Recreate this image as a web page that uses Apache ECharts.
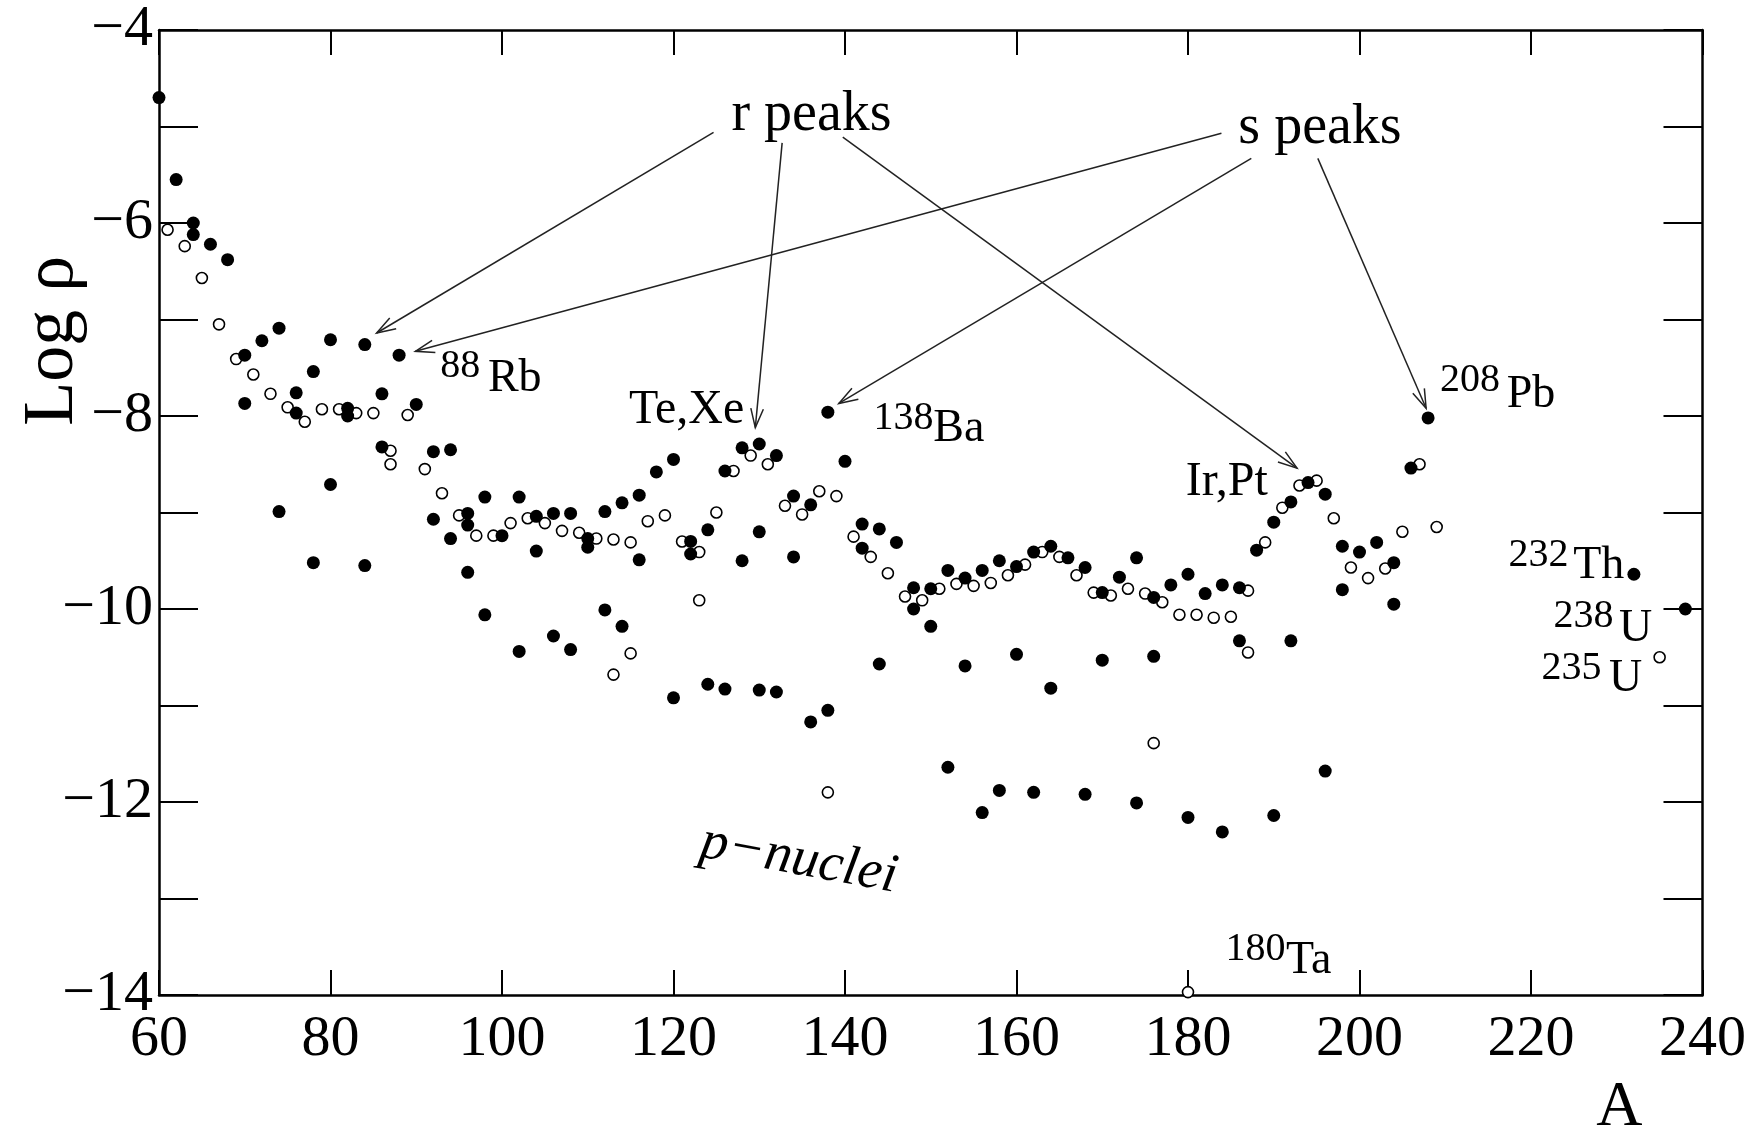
<!DOCTYPE html>
<html>
<head>
<meta charset="utf-8">
<script src="https://cdn.jsdelivr.net/npm/echarts@6/dist/echarts.min.js"></script>
<style>
html,body{margin:0;padding:0;background:#fff;}
#chart{width:1749px;height:1138px;}
</style>
</head>
<body>
<div id="chart"></div>
<script>
// ---- data: [A, log rho] ----
const filledPoints = [
 [60,-4.70],[62,-5.55],[64,-6.00],[64,-6.12],[66,-6.22],[68,-6.38],[70,-7.37],[70,-7.87],
 [72,-7.22],[74,-7.09],[74,-8.99],[76,-7.76],[76,-7.97],[78,-7.54],[78,-9.52],[80,-7.21],
 [80,-8.71],[82,-7.92],[82,-8.00],[84,-7.26],[84,-9.55],[86,-7.77],[86,-8.32],[88,-7.37],
 [90,-7.88],[92,-8.37],[92,-9.07],[94,-8.35],[94,-9.27],[96,-9.01],[96,-9.13],[96,-9.62],
 [98,-8.84],[98,-10.06],[100,-9.24],[102,-8.84],[102,-10.44],[104,-9.04],[104,-9.40],
 [106,-9.01],[106,-10.28],[108,-9.01],[108,-10.42],[110,-9.27],[110,-9.36],[112,-8.99],
 [112,-10.01],[114,-8.90],[114,-10.18],[116,-8.82],[116,-9.49],[118,-8.58],[120,-8.45],
 [120,-10.92],[122,-9.30],[122,-9.43],[124,-9.18],[124,-10.78],[126,-8.57],[126,-10.83],
 [128,-8.33],[128,-9.50],[130,-8.29],[130,-9.20],[130,-10.84],[132,-8.41],[132,-10.86],
 [134,-8.83],[134,-9.46],[136,-8.92],[136,-11.17],[138,-7.96],[138,-11.05],[140,-8.47],
 [142,-9.12],[142,-9.37],[144,-9.17],[144,-10.57],[146,-9.31],[148,-9.78],[148,-10.00],
 [150,-9.79],[150,-10.18],[152,-9.60],[152,-11.64],[154,-9.68],[154,-10.59],[156,-9.60],
 [156,-12.11],[158,-9.50],[158,-11.88],[160,-9.56],[160,-10.47],[162,-9.41],[162,-11.90],
 [164,-9.35],[164,-10.82],[166,-9.47],[168,-9.57],[168,-11.92],[170,-9.83],[170,-10.53],
 [172,-9.67],[174,-9.47],[174,-12.01],[176,-9.88],[176,-10.49],[178,-9.75],[180,-9.64],
 [180,-12.16],[182,-9.84],[184,-9.75],[184,-12.31],[186,-9.78],[186,-10.33],[188,-9.39],
 [190,-9.10],[190,-12.14],[192,-8.89],[192,-10.33],[194,-8.69],[196,-8.81],[196,-11.68],
 [198,-9.35],[198,-9.80],[200,-9.41],[202,-9.31],[204,-9.52],[204,-9.95],[206,-8.54],
 [208,-8.02],[232,-9.64],[238,-10.00]
];
const openPoints = [
 [61,-6.07],[63,-6.24],[65,-6.57],[67,-7.05],[69,-7.41],[71,-7.57],[73,-7.77],[75,-7.91],
 [77,-8.06],[79,-7.93],[81,-7.93],[83,-7.97],[85,-7.97],[87,-8.36],[87,-8.50],[89,-7.99],
 [91,-8.55],[93,-8.80],[95,-9.03],[97,-9.24],[99,-9.24],[101,-9.11],[103,-9.06],[105,-9.11],
 [107,-9.19],[109,-9.21],[111,-9.27],[113,-9.28],[113,-10.68],[115,-9.31],[115,-10.46],
 [117,-9.09],[119,-9.03],[121,-9.30],[123,-9.41],[123,-9.91],[125,-9.00],[127,-8.57],
 [129,-8.41],[131,-8.50],[133,-8.93],[135,-9.02],[137,-8.78],[138,-11.90],[139,-8.83],
 [141,-9.25],[143,-9.46],[145,-9.63],[147,-9.87],[149,-9.91],[151,-9.79],[153,-9.74],
 [155,-9.76],[157,-9.73],[159,-9.65],[161,-9.54],[163,-9.41],[165,-9.46],[167,-9.65],
 [169,-9.83],[171,-9.86],[173,-9.79],[175,-9.84],[176,-11.39],[177,-9.93],[179,-10.06],
 [180,-13.97],[181,-10.06],[183,-10.09],[185,-10.08],[187,-9.81],[187,-10.45],[189,-9.31],
 [191,-8.95],[193,-8.72],[195,-8.67],[197,-9.06],[199,-9.57],[201,-9.68],[203,-9.58],
 [205,-9.20],[207,-8.50],[209,-9.15],[235,-10.50]
];
const xTickValues = [60,80,100,120,140,160,180,200,220,240];
const yTickLabels = {'-4':'−4','-6':'−6','-8':'−8','-10':'−10','-12':'−12','-14':'−14'};
const xAxisTitle = 'A';
const yAxisTitle = 'Log ρ';

// annotation arrows: [startA, startL, tipA, tipL]
const arrowsR = [[124.67,-5.06,85.38,-7.14],[132.67,-5.17,129.54,-8.12],[139.74,-5.11,192.71,-8.54]];
const arrowsS = [[183.90,-5.07,89.90,-7.33],[187.38,-5.33,139.28,-7.87],[195.14,-5.33,207.77,-7.92]];
// labels: [text, A (left), log rho (baseline), kind]
const labels = [
 ['88',92.8,-7.61,'sup'],['Rb',98.36,-7.76,'el'],
 ['Te,Xe',114.82,-8.09,'big'],
 ['138',143.33,-8.15,'sup'],['Ba',150.29,-8.28,'el'],
 ['Ir,Pt',179.73,-8.84,'big'],
 ['208',209.4,-7.76,'sup'],['Pb',217.16,-7.92,'el'],
 ['232',217.39,-9.565,'sup'],['Th',224.93,-9.70,'el'],
 ['238',222.61,-10.197,'sup'],['U',230.26,-10.352,'el'],
 ['235',221.22,-10.736,'sup'],['U',229.10,-10.87,'el'],
 ['180',184.36,-13.658,'sup'],['Ta',191.43,-13.793,'el'],
 ['r peaks',126.76,-5.057,'title'],['s peaks',185.87,-5.192,'title']
];
const pNucleiLabel = ['p−nuclei',134.64,-12.60];

const FONT = '"Liberation Serif", "Times New Roman", serif';
const chart = echarts.init(document.getElementById('chart'), null, {renderer:'canvas'});

const axisLineStyle = {color:'#000', width:2.5};
const tickStyle = {color:'#000', width:2};
chart.setOption({
  animation:false,
  backgroundColor:'#fff',
  grid:{left:159,right:37,top:30,bottom:143,containLabel:false},
  xAxis:[
    {type:'value',min:60,max:240,interval:20,position:'bottom',
     axisLine:{show:true,onZero:false,lineStyle:axisLineStyle},
     axisTick:{show:true,inside:true,length:25,lineStyle:tickStyle},
     axisLabel:{show:true,margin:16,fontSize:58,fontFamily:FONT,color:'#000',
       formatter:v=>xTickValues.indexOf(v)>=0?String(v):''},
     splitLine:{show:false}},
    {type:'value',min:60,max:240,interval:20,position:'top',
     axisLine:{show:true,onZero:false,lineStyle:axisLineStyle},
     axisTick:{show:true,inside:true,length:25,lineStyle:tickStyle},
     axisLabel:{show:false},splitLine:{show:false}}
  ],
  yAxis:[
    {type:'value',min:-14,max:-4,interval:1,position:'left',
     axisLine:{show:true,onZero:false,lineStyle:axisLineStyle},
     axisTick:{show:true,inside:true,length:39,lineStyle:tickStyle},
     axisLabel:{show:true,margin:6,fontSize:58,fontFamily:FONT,color:'#000',
       formatter:v=>yTickLabels[String(v)]||''},
     splitLine:{show:false}},
    {type:'value',min:-14,max:-4,interval:1,position:'right',
     axisLine:{show:true,onZero:false,lineStyle:axisLineStyle},
     axisTick:{show:true,inside:true,length:39,lineStyle:tickStyle},
     axisLabel:{show:false},splitLine:{show:false}}
  ],
  series:[
    {type:'scatter',name:'open',xAxisIndex:0,yAxisIndex:0,data:openPoints,symbol:'circle',symbolSize:11,
     itemStyle:{color:'#fff',borderColor:'#000',borderWidth:1.6,opacity:1},z:3},
    {type:'scatter',name:'filled',xAxisIndex:0,yAxisIndex:0,data:filledPoints,symbol:'circle',symbolSize:13,
     itemStyle:{color:'#000',opacity:1},z:4}
  ]
});

function px(a,l){ return chart.convertToPixel({gridIndex:0},[a,l]); }
const g = [];
function arrow(a){
  const s = px(a[0],a[1]), t = px(a[2],a[3]);
  g.push({type:'line',shape:{x1:s[0],y1:s[1],x2:t[0],y2:t[1]},style:{stroke:'#222',lineWidth:1.5},z:10});
  const ang = Math.atan2(s[1]-t[1], s[0]-t[0]);
  const L = 20, spread = 0.32;
  const p1 = [t[0]+L*Math.cos(ang+spread), t[1]+L*Math.sin(ang+spread)];
  const p2 = [t[0]+L*Math.cos(ang-spread), t[1]+L*Math.sin(ang-spread)];
  g.push({type:'polyline',shape:{points:[p1,t,p2]},style:{stroke:'#222',lineWidth:1.5,fill:null},z:10});
}
arrowsR.forEach(arrow); arrowsS.forEach(arrow);
const sizes = {sup:40, el:46, big:48, title:56};
labels.forEach(l=>{
  const p = px(l[1],l[2]); const fs = sizes[l[3]];
  g.push({type:'text',x:p[0],y:p[1]+0.2*fs,z:11,
    style:{text:l[0],x:0,y:0,font:fs+'px '+FONT,fill:'#000',align:'left',verticalAlign:'bottom'}});
});
const pn = px(pNucleiLabel[1],pNucleiLabel[2]);
g.push({type:'text',x:pn[0],y:pn[1],rotation:-0.18,z:11,
  style:{text:pNucleiLabel[0],x:0,y:0,font:'italic 55px '+FONT,fill:'#000',align:'center',verticalAlign:'middle'}});
// axis titles
const yt = px(47.6,-7.22);
g.push({type:'text',x:yt[0],y:yt[1],rotation:Math.PI/2,z:11,
  style:{text:yAxisTitle,x:0,y:0,font:'72px '+FONT,fill:'#000',align:'center',verticalAlign:'middle'}});
const xt = px(230.3,-15.17);
g.push({type:'text',x:xt[0],y:xt[1],z:11,
  style:{text:xAxisTitle,x:0,y:0,font:'64px '+FONT,fill:'#000',align:'center',verticalAlign:'middle'}});
chart.setOption({graphic:g});
</script>
</body>
</html>
